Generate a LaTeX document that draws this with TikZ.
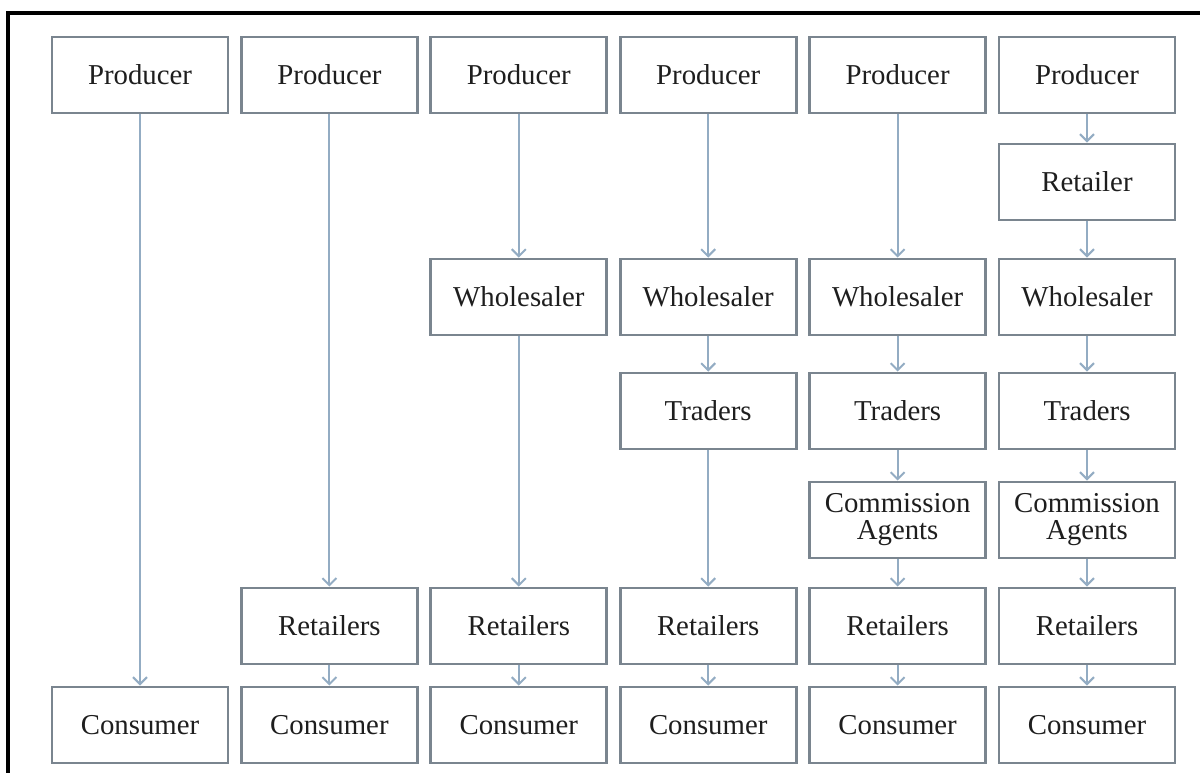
\documentclass[tikz,border=0pt]{standalone}
\usepackage{fontspec}
\setmainfont{Liberation Serif}
\usetikzlibrary{arrows.meta}
\definecolor{boxline}{HTML}{7A858F}
\definecolor{flowline}{HTML}{93ACC3}
\definecolor{ink}{HTML}{1E1E1E}
\tikzset{
  stage/.style={draw=boxline, line width=1.45pt, fill=white, minimum width=88pt,
    minimum height=38pt, inner sep=0pt, align=center, text=ink,
    font=\fontsize{14.4}{13.5}\selectfont},
  flow/.style={draw=flowline, line width=1pt,
    -{Straight Barb[length=3.5pt,width=7pt,line width=1pt]}}
}
\begin{document}
\begin{tikzpicture}[x=0.5pt,y=-0.5pt]
\useasboundingbox (0,0) rectangle (1200,773);
% frame (top and left edges)
\draw[line width=1.6pt, black] (1200,13) -- (8,13) -- (8,773);

% column 1
\node[stage] (a1) at (140,75) {Producer};
\node[stage] (a7) at (140,725) {Consumer};
% column 2
\node[stage] (b1) at (329.4,75) {Producer};
\node[stage] (b6) at (329.4,626) {Retailers};
\node[stage] (b7) at (329.4,725) {Consumer};
% column 3
\node[stage] (c1) at (518.8,75) {Producer};
\node[stage] (c3) at (518.8,297) {Wholesaler};
\node[stage] (c6) at (518.8,626) {Retailers};
\node[stage] (c7) at (518.8,725) {Consumer};
% column 4
\node[stage] (d1) at (708.2,75) {Producer};
\node[stage] (d3) at (708.2,297) {Wholesaler};
\node[stage] (d4) at (708.2,411) {Traders};
\node[stage] (d6) at (708.2,626) {Retailers};
\node[stage] (d7) at (708.2,725) {Consumer};
% column 5
\node[stage] (e1) at (897.6,75) {Producer};
\node[stage] (e3) at (897.6,297) {Wholesaler};
\node[stage] (e4) at (897.6,411) {Traders};
\node[stage] (e5) at (897.6,520) {Commission\\Agents};
\node[stage] (e6) at (897.6,626) {Retailers};
\node[stage] (e7) at (897.6,725) {Consumer};
% column 6
\node[stage] (f1) at (1087,75) {Producer};
\node[stage] (f2) at (1087,182) {Retailer};
\node[stage] (f3) at (1087,297) {Wholesaler};
\node[stage] (f4) at (1087,411) {Traders};
\node[stage] (f5) at (1087,520) {Commission\\Agents};
\node[stage] (f6) at (1087,626) {Retailers};
\node[stage] (f7) at (1087,725) {Consumer};

% channels
\draw[flow] (a1) -- (a7);
\draw[flow] (b1) -- (b6);
\draw[flow] (b6) -- (b7);
\draw[flow] (c1) -- (c3);
\draw[flow] (c3) -- (c6);
\draw[flow] (c6) -- (c7);
\draw[flow] (d1) -- (d3);
\draw[flow] (d3) -- (d4);
\draw[flow] (d4) -- (d6);
\draw[flow] (d6) -- (d7);
\draw[flow] (e1) -- (e3);
\draw[flow] (e3) -- (e4);
\draw[flow] (e4) -- (e5);
\draw[flow] (e5) -- (e6);
\draw[flow] (e6) -- (e7);
\draw[flow] (f1) -- (f2);
\draw[flow] (f2) -- (f3);
\draw[flow] (f3) -- (f4);
\draw[flow] (f4) -- (f5);
\draw[flow] (f5) -- (f6);
\draw[flow] (f6) -- (f7);
\end{tikzpicture}
\end{document}
